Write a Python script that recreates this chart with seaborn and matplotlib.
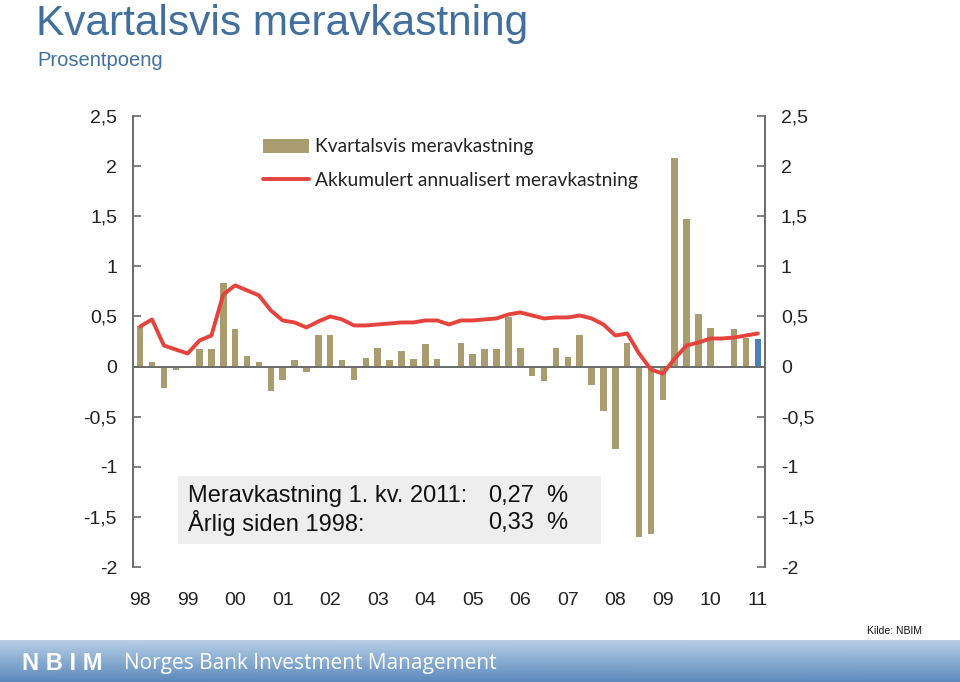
import numpy as np
import pandas as pd
import matplotlib
matplotlib.use("Agg")
import matplotlib.pyplot as plt
import seaborn as sns
from matplotlib.patches import Patch, Rectangle
from matplotlib.lines import Line2D

# ---- data ----
years = ["98", "99", "00", "01", "02", "03", "04", "05", "06", "07", "08", "09", "10", "11"]
quarterly = [0.40, 0.05, -0.21, -0.03, -0.01, 0.18, 0.18, 0.83,
             0.37, 0.11, 0.05, -0.24, -0.13, 0.07, -0.05, 0.31,
             0.31, 0.07, -0.13, 0.09, 0.19, 0.07, 0.16, 0.08,
             0.23, 0.08, -0.01, 0.24, 0.13, 0.18, 0.18, 0.49,
             0.19, -0.09, -0.14, 0.19, 0.10, 0.31, -0.18, -0.44,
             -0.82, 0.24, -1.70, -1.67, -0.33, 2.08, 1.47, 0.52,
             0.38, -0.01, 0.37, 0.28, 0.27]
cumulative = [0.40, 0.47, 0.21, 0.17, 0.13, 0.26, 0.31, 0.72,
              0.81, 0.76, 0.71, 0.56, 0.46, 0.44, 0.39, 0.45,
              0.50, 0.47, 0.41, 0.41, 0.42, 0.43, 0.44, 0.44,
              0.46, 0.46, 0.42, 0.46, 0.46, 0.47, 0.48, 0.52,
              0.54, 0.51, 0.48, 0.49, 0.49, 0.51, 0.48, 0.42,
              0.31, 0.33, 0.13, -0.03, -0.07, 0.08, 0.21, 0.24,
              0.28, 0.28, 0.29, 0.31, 0.33]
y_ticks = [2.5, 2, 1.5, 1, 0.5, 0, -0.5, -1, -1.5, -2]
y_labels = ["2,5", "2", "1,5", "1", "0,5", "0", "-0,5", "-1", "-1,5", "-2"]

quarters = [f"{y}Q{q}" for y in years for q in range(1, 5)][:len(quarterly)]
df = pd.DataFrame({"q": quarters, "val": quarterly, "pos": np.arange(len(quarterly)), "cum": cumulative})

TAN = "#A99C6E"
BLUE_BAR = "#4D7FB8"
RED = "#E5433B"
TITLE_BLUE = "#41709F"
GRAY = "#6A6A6A"

sns.set_style("white")
plt.rcParams["font.family"] = ["Liberation Sans", "DejaVu Sans"]

fig = plt.figure(figsize=(9.6, 6.82), dpi=100)
ax = fig.add_axes([133/960, 1 - 567/682, (765-133)/960, (567-116)/682])

pal = {q: (BLUE_BAR if i == len(quarters) - 1 else TAN) for i, q in enumerate(quarters)}
sns.barplot(data=df, x="q", y="val", hue="q", palette=pal, width=0.55,
            legend=False, ax=ax, saturation=1, linewidth=0)
ax.axhline(0, color=GRAY, lw=1.4, zorder=1)
sns.lineplot(data=df, x="pos", y="cum", color=RED, lw=2.8, ax=ax, zorder=3)

ax.set_xlim(-0.6, len(quarterly) - 0.4)
ax.set_ylim(-2, 2.5)
ax.set_xlabel("")
ax.set_ylabel("")
ax.set_xticks(np.arange(0, len(quarterly), 4))
ax.set_xticklabels(years, fontsize=14, color="#222222")
ax.tick_params(axis="x", length=0, pad=18)
ax.set_yticks(y_ticks)
ax.set_yticklabels(y_labels, fontsize=14, color="#222222")
ax.tick_params(axis="y", direction="in", length=6, width=1.2, color=GRAY,
               left=True, right=True, labelleft=True, labelright=True, pad=11.5)
for s in ["top", "bottom"]:
    ax.spines[s].set_visible(False)
for s in ["left", "right"]:
    ax.spines[s].set_color(GRAY)
    ax.spines[s].set_linewidth(1.4)
for t in ax.yaxis.get_major_ticks():
    t.label2.set_fontsize(14)
    t.label2.set_color("#222222")

# legend
handles = [Patch(facecolor=TAN, edgecolor="none"), Line2D([0], [0], color=RED, lw=2.8)]
leg = ax.legend(handles, ["Kvartalsvis meravkastning", "Akkumulert annualisert meravkastning"],
                loc="upper left", bbox_to_anchor=(246/960, 1 - 121/682), bbox_transform=fig.transFigure,
                frameon=False, handlelength=2.4, handleheight=0.75, handletextpad=0.3,
                labelspacing=0.85, prop={"family": "Lato", "size": 13.8})
for t in leg.get_texts():
    t.set_color("#222222")

# info box
fig.patches.append(Rectangle((178/960, 1 - 544/682), (601-178)/960, (544-476)/682,
                             transform=fig.transFigure, facecolor="#EEEEEE", edgecolor="none", zorder=0))
for yy, lab, val in [(496, "Meravkastning 1. kv. 2011:", "0,27"), (523, "Årlig siden 1998:", "0,33")]:
    fig.text(188/960, 1 - yy/682, lab, fontsize=17, va="center", ha="left", color="#111111")
    fig.text(488/960, 1 - yy/682, val, fontsize=17, va="center", ha="left", color="#111111")
    fig.text(546/960, 1 - yy/682, "%", fontsize=17, va="center", ha="left", color="#111111")

# titles
fig.text(36/960, 1 - 24/682, "Kvartalsvis meravkastning", fontsize=30.5, color=TITLE_BLUE, va="center", ha="left")
fig.text(37/960, 1 - 60/682, "Prosentpoeng", fontsize=14.5, color=TITLE_BLUE, va="center", ha="left")

# source
fig.text(922/960, 1 - 631/682, "Kilde: NBIM", fontsize=7.5, color="#111111", va="center", ha="right")

# bottom banner
bax = fig.add_axes([0, 0, 1, 42/682])
grad_v = np.linspace(0, 1, 50)[:, None]
grad_h = np.linspace(0, 1, 200)[None, :]
top = np.array([0.72, 0.81, 0.90])
bot = np.array([0.36, 0.54, 0.74])
img = top[None, None, :] * (1 - grad_v[..., None]) + bot[None, None, :] * grad_v[..., None]
img = img * (1 - 0.06 * grad_h[..., None]) + 0.06 * grad_h[..., None] * np.array([0.55, 0.7, 0.85])
bax.imshow(np.clip(img, 0, 1), aspect="auto", extent=[0, 1, 0, 1], origin="upper")
bax.set_xlim(0, 1)
bax.set_ylim(0, 1)
bax.axis("off")
bax.text(22/960, 0.45, "N B I M", fontsize=17, fontweight="bold", color="white", va="center", ha="left")
bax.text(124/960, 0.45, "Norges Bank Investment Management", fontsize=15, color="white",
         va="center", ha="left", family=["Open Sans", "DejaVu Sans"])

fig.savefig("out.png", dpi=100, facecolor="white")
